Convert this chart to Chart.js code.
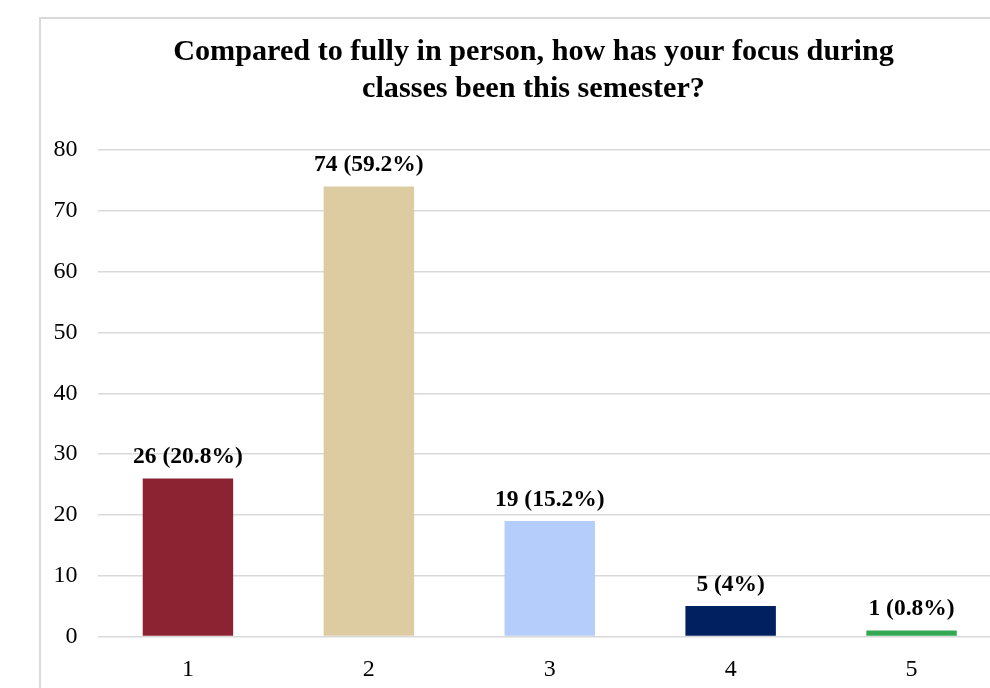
<!DOCTYPE html>
<html>
<head>
<meta charset="utf-8">
<script src="https://cdn.jsdelivr.net/npm/chart.js@4.4.0/dist/chart.umd.min.js"></script>
<style>
  html, body { margin: 0; padding: 0; background: #fff; overflow: hidden; width: 990px; height: 688px; }
  #box {
    position: absolute;
    left: 39px;
    top: 17px;
    width: 985px;
    height: 700px;
    border: 2px solid #d9d9d9;
  }
  canvas { display: block; }
</style>
</head>
<body>
<div id="box">
  <canvas id="chartFocus" width="985" height="700"></canvas>
</div>
<script>
const categories = ["1", "2", "3", "4", "5"];
const counts = [26, 74, 19, 5, 1];
const percents = ["20.8", "59.2", "15.2", "4", "0.8"];
const barColors = ["#8b2332", "#ddcca2", "#b4cdfa", "#002060", "#34a853"];
const titleLines = [
  "Compared to fully in person, how has your focus during",
  "classes been this semester?",
];

// value labels above each bar, e.g. "26 (20.8%)"
const barLabels = {
  id: "barLabels",
  afterDatasetsDraw(chart) {
    const ctx = chart.ctx;
    const meta = chart.getDatasetMeta(0);
    ctx.save();
    ctx.font = "bold 23.5px 'Liberation Serif'";
    ctx.fillStyle = "#000";
    ctx.textAlign = "center";
    ctx.textBaseline = "alphabetic";
    meta.data.forEach((bar, i) => {
      ctx.fillText(counts[i] + " (" + percents[i] + "%)", bar.x, bar.y - 15);
    });
    ctx.restore();
  },
};

const chartFocus = document.getElementById("chartFocus").getContext("2d");
new Chart(chartFocus, {
  type: "bar",
  data: {
    labels: categories,
    datasets: [
      {
        data: counts,
        backgroundColor: barColors,
        barPercentage: 0.5,
        categoryPercentage: 1.0,
      },
    ],
  },
  options: {
    responsive: false,
    animation: false,
    layout: {
      padding: { left: 0, right: 0, top: 0, bottom: 32.5 },
    },
    scales: {
      x: {
        grid: { display: false, drawTicks: false },
        border: { display: false },
        ticks: {
          color: "#000",
          padding: 19,
          font: { family: "Liberation Serif", size: 24 },
        },
        afterFit(scale) {
          scale.height = 50;
        },
      },
      y: {
        min: 0,
        max: 80,
        ticks: {
          stepSize: 10,
          color: "#000",
          padding: 20,
          font: { family: "Liberation Serif", size: 24 },
        },
        grid: { color: "#d9d9d9", lineWidth: 1.5, drawTicks: false },
        border: { display: false },
        afterFit(scale) {
          scale.width = 56.5;
        },
      },
      // empty right-hand axis: the plot runs off the right edge while the title stays centred on the whole chart
      yRight: {
        type: "linear",
        position: "right",
        min: 0,
        max: 80,
        ticks: { display: false },
        grid: { display: false, drawTicks: false },
        border: { display: false },
        afterFit(scale) {
          scale.width = 24;
        },
      },
    },
    plugins: {
      legend: { display: false },
      tooltip: { enabled: false },
      title: {
        display: true,
        text: titleLines,
        color: "#000",
        font: { family: "Liberation Serif", size: 30.2, weight: "bold", lineHeight: 37 / 30.2 },
        padding: { top: 14.5, bottom: 42.5 },
      },
    },
  },
  plugins: [barLabels],
});
</script>
</body>
</html>
